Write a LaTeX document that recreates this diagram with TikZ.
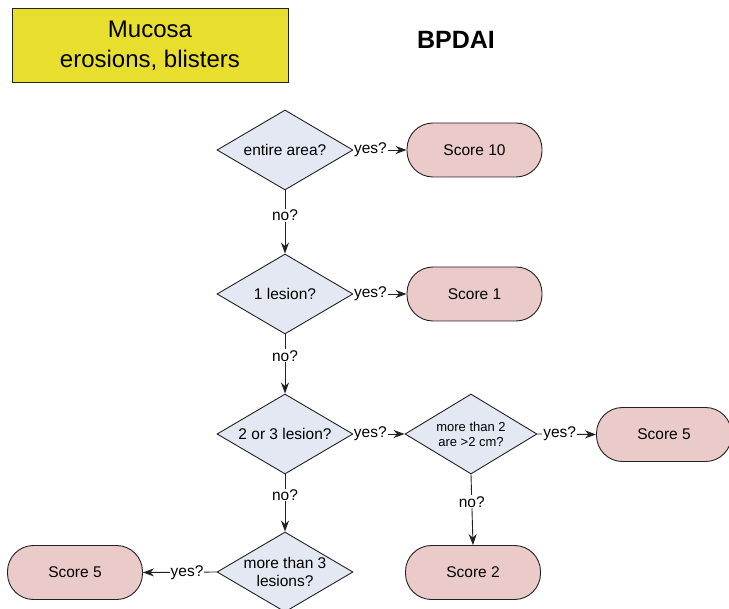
\documentclass[tikz,border=0pt]{standalone}
\usepackage{fontspec}
\setmainfont{Liberation Sans}
\usetikzlibrary{shapes.geometric,arrows.meta}
\definecolor{headyellow}{HTML}{E8DE2E}
\definecolor{askfill}{HTML}{E4E8F2}
\definecolor{scorefill}{HTML}{EBCACA}
\definecolor{edgegray}{HTML}{222222}
\tikzset{
  ask/.style={diamond, draw=edgegray, fill=askfill, line width=0.9pt,
    minimum width=136pt, minimum height=80pt, inner sep=0pt},
  asktext/.style={align=center, inner sep=0pt, font=\fontsize{15.5}{17.5}\selectfont},
  smalltext/.style={asktext, font=\fontsize{13}{15}\selectfont},
  score/.style={draw=edgegray, fill=scorefill, line width=0.9pt, rounded corners=26pt,
    minimum width=135pt, minimum height=54pt, inner sep=0pt,
    font=\fontsize{15.5}{17}\selectfont},
  flow/.style={draw=edgegray, line width=0.9pt, -{Stealth[length=11pt,width=8pt,inset=3.5pt]}},
  lbl/.style={fill=white, inner sep=1pt, font=\fontsize{15.5}{17}\selectfont}
}
\begin{document}
\begin{tikzpicture}[x=1pt,y=-1pt]
\clip (0,0) rectangle (729,609);
\fill[white] (0,0) rectangle (729,609);

% header
\node[draw=edgegray, fill=headyellow, line width=0.9pt, minimum width=276pt,
  minimum height=74pt, align=center, font=\fontsize{24}{30}\selectfont]
  (head) at (150,45.5) {Mucosa\\erosions, blisters};
\node[font=\fontsize{25}{28}\selectfont\bfseries] (title) at (456,40) {BPDAI};

% decisions (fixed-size diamonds, text laid on top)
\node[ask, label={[asktext]center:entire area?}] (q1) at (285,150) {};
\node[ask, label={[asktext]center:1 lesion?}] (q2) at (285,294) {};
\node[ask, label={[asktext]center:2 or 3 lesion?}] (q3) at (285,434) {};
\node[ask, minimum width=132pt, label={[smalltext]center:{more than 2\\are >2 cm?}}] (q4) at (471,434) {};
\node[ask, label={[asktext]center:{more than 3\\lesions?}}] (q5) at (285,572) {};

% outcomes
\node[score] (s10) at (474.5,150) {Score 10};
\node[score] (s1) at (474.5,294) {Score 1};
\node[score] (s5r) at (664,434.5) {Score 5};
\node[score] (s2) at (473,572.5) {Score 2};
\node[score] (s5l) at (75,572.5) {Score 5};

% connectors
\draw[flow] (q1.east) -- node[lbl, pos=0.32] {yes?} (s10.west);
\draw[flow] (q2.east) -- node[lbl, pos=0.32] {yes?} (s1.west);
\draw[flow] (q3.east) -- node[lbl, pos=0.33] {yes?} (q4.west);
\draw[flow] (q4.east) -- node[lbl, pos=0.38] {yes?} (s5r.west);
\draw[flow] (q5.west) -- node[lbl, pos=0.4] {yes?} (s5l.east);
\draw[flow] (q1.south) -- node[lbl, pos=0.39] {no?} (q2.north);
\draw[flow] (q2.south) -- node[lbl, pos=0.36] {no?} (q3.north);
\draw[flow] (q3.south) -- node[lbl, pos=0.36] {no?} (q5.north);
\draw[flow] (q4.south) -- node[lbl, pos=0.39] {no?} (s2.north);
\end{tikzpicture}
\end{document}
